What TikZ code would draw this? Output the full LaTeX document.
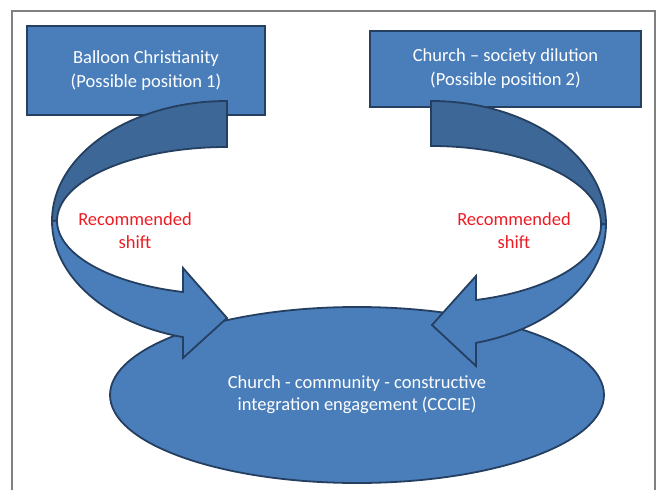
\documentclass[tikz,border=0pt]{standalone}
\usepackage{fontspec}
\setmainfont{Carlito}
\usetikzlibrary{shapes.geometric}
\definecolor{boxblue}{RGB}{74,126,187}
\definecolor{backblue}{RGB}{61,103,151}
\definecolor{edgeblue}{RGB}{36,63,96}
\definecolor{shiftred}{RGB}{237,28,36}
\definecolor{framegray}{RGB}{128,128,128}

\begin{document}
\begin{tikzpicture}[x=1pt,y=-1pt,
    posbox/.style={draw=edgeblue,line width=1.8pt,fill=boxblue,text=white,inner sep=0pt,align=center,font=\fontsize{18.5}{24}\selectfont},
    bandpart/.style={draw=edgeblue,line width=1.8pt,line join=miter},
    shiftlabel/.style={text=shiftred,align=center,font=\fontsize{18.5}{23}\selectfont}]
    \useasboundingbox (0,0) rectangle (657,490);
    \draw[framegray,line width=1.3pt] (12,490) -- (12,11) -- (655,11) -- (655,490);
    % the two possible positions
    \node[posbox,minimum width=238pt,minimum height=89pt] (pos1) at (146,70.5) {Balloon Christianity\\(Possible position 1)};
    \node[posbox,minimum width=271pt,minimum height=76pt] (pos2) at (505.5,69) {Church -- society dilution\\(Possible position 2)};
    % target
    \node[posbox,ellipse,minimum width=494pt,minimum height=176pt,font=\fontsize{18.5}{22}\selectfont] (cccie) at (357,395) {Church - community - constructive\\integration engagement (CCCIE)};
    % left shift, back then front
    \draw[bandpart,fill=backblue] (227,101) arc[start angle=270,end angle=180,x radius=175,y radius=120] -- (57,221) arc[start angle=180,end angle=270,x radius=170,y radius=74] -- cycle;
    \draw[bandpart,fill=boxblue] (52,221) arc[start angle=180,end angle=104.6,x radius=175,y radius=120] -- (183,358) -- (227,318) -- (183,268) -- (183,292) arc[start angle=105,end angle=180,x radius=170,y radius=74] -- cycle;
    % right shift
    \draw[bandpart,fill=backblue] (431,101) arc[start angle=270,end angle=360,x radius=175,y radius=123] -- (601,224) arc[start angle=0,end angle=-90,x radius=170,y radius=78] -- cycle;
    \draw[bandpart,fill=boxblue] (606,224) arc[start angle=0,end angle=75.1,x radius=175,y radius=123] -- (476,366) -- (432,325) -- (476,276) -- (476,300) arc[start angle=74.65,end angle=0,x radius=170,y radius=78] -- cycle;
    \node[shiftlabel] (rec1) at (135,231) {Recommended\\shift};
    \node[shiftlabel] (rec2) at (514,231) {Recommended\\shift};
\end{tikzpicture}
\end{document}
